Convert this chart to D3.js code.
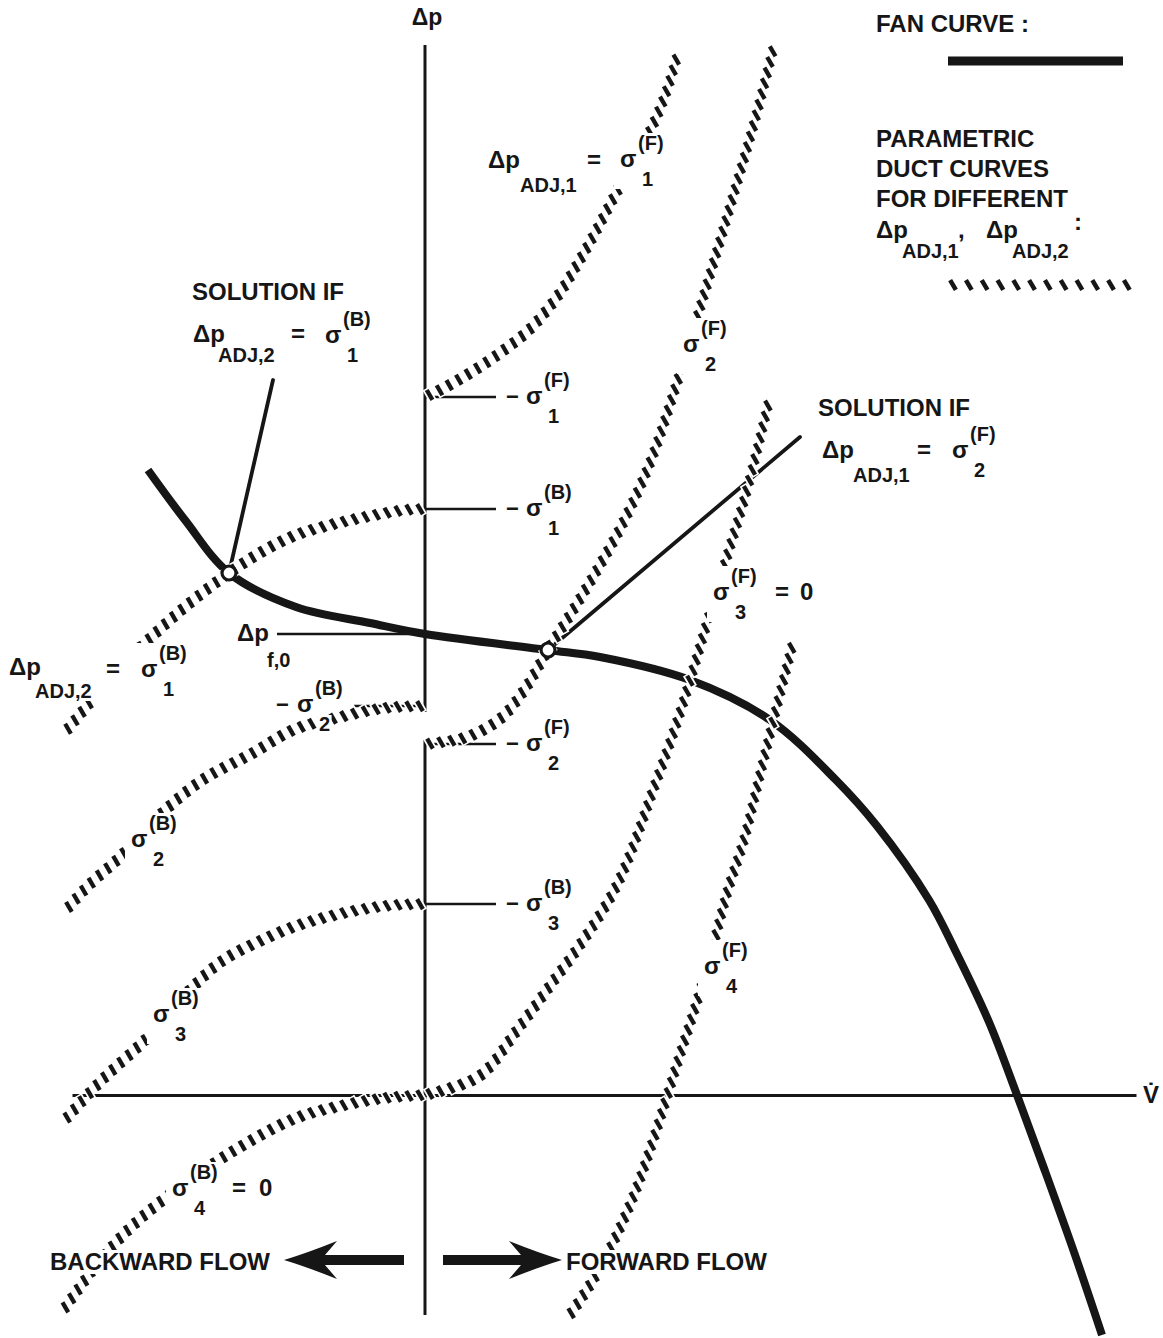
<!DOCTYPE html>
<html>
<head>
<meta charset="utf-8">
<script src="https://cdn.jsdelivr.net/npm/d3@7"></script>
<style>
  html, body { margin: 0; padding: 0; background: #fff; }
  svg { display: block; }
  text { font-family: "Liberation Sans", Arial, Helvetica, sans-serif; font-weight: bold; fill: #161616; }
</style>
</head>
<body>
<svg id="chart" width="1163" height="1338"></svg>
<script>
// Fan curve against parametric duct curves: forward (F) and backward (B) flow branches.
// Horizontal: volume flow V̇, vertical: pressure rise Δp (arbitrary units).

// Fan characteristic (V̇, Δp)
const fanCurve = [[-2.77,6.25],[-2.40,5.75],[-1.96,5.22],[-1.29,4.88],[-0.55,4.72],[0,4.61],
  [1.23,4.45],[1.75,4.38],[2.65,4.15],[3.45,3.75],[4.11,3.15],[4.52,2.69],[5.04,1.95],
  [5.30,1.45],[5.64,0.73],[5.92,0],[6.20,-0.76],[6.49,-1.57],[6.77,-2.40]];

// Duct curves for forward flow, σ1(F) … σ4(F)
const ductF1 = [[0,6.98],[0.17,7.06],[0.45,7.22],[0.75,7.42],[1.05,7.66],[1.32,7.98],[1.52,8.30],
  [1.70,8.62],[1.88,8.96],[2.08,9.32],[2.28,9.70],[2.42,10.05],[2.54,10.45]];
const ductF2 = [[0,3.51],[0.10,3.52],[0.42,3.58],[0.75,3.76],[1.00,4.06],[1.23,4.45],[1.50,4.88],
  [1.75,5.30],[1.98,5.72],[2.25,6.32],[2.52,7.12],[2.82,8.10],[3.10,9.05],[3.30,9.75],[3.48,10.45]];
const ductF3 = [[0,0],[0.19,0.05],[0.56,0.20],[0.93,0.66],[1.30,1.16],[1.55,1.50],[1.92,2.10],
  [2.30,3.10],[2.55,3.82],[2.85,4.82],[3.05,5.48],[3.22,6.05],[3.45,6.98]];
const ductF4 = [[3.68,4.52],[3.51,3.85],[3.35,3.20],[3.19,2.55],[3.03,2.05],[2.87,1.45],[2.71,0.90],
  [2.55,0.40],[2.41,-0.05],[2.25,-0.55],[2.09,-1.00],[1.87,-1.50],[1.65,-1.90],[1.40,-2.27]];

// Duct curves for backward flow, σ1(B) … σ4(B)
const ductB1 = [[0,5.86],[-0.20,5.85],[-0.55,5.79],[-0.95,5.70],[-1.29,5.60],[-1.60,5.45],[-1.96,5.22],
  [-2.40,4.88],[-2.84,4.48],[-3.20,4.10],[-3.58,3.65]];
const ductB2 = [[0,3.89],[-0.40,3.87],[-0.85,3.78],[-1.32,3.65],[-1.72,3.42],[-2.18,3.18],[-2.45,2.98],
  [-2.75,2.70],[-3.05,2.38],[-3.38,2.08],[-3.63,1.80]];
const ductB3 = [[0,1.91],[-0.30,1.90],[-0.55,1.87],[-0.90,1.80],[-1.29,1.69],[-1.65,1.54],[-2.03,1.34],
  [-2.40,1.00],[-2.77,0.58],[-3.25,0.13],[-3.60,-0.25]];
const ductB4 = [[0,0],[-0.40,-0.03],[-0.80,-0.10],[-1.29,-0.23],[-1.85,-0.52],[-2.25,-0.78],[-2.66,-1.08],
  [-3.00,-1.38],[-3.30,-1.72],[-3.65,-2.20]];

// Operating points and the ends of their callout lines
const solutionB = [-1.96, 5.22];
const solutionF = [1.23, 4.45];
const calloutB = [-1.52, 7.15];
const calloutF = [3.75, 6.58];
const dpF0 = 4.61;           // fan pressure rise at zero flow
const dpF0LabelStart = -1.48;

// Offsets marked on the Δp axis (negative σ values): [Δp, side]
const sigmaMarks = [[ductF1[0][1], 1], [ductB1[0][1], 1], [ductB2[0][1], -1], [ductF2[0][1], 1], [ductB3[0][1], 1]];

const svg = d3.select("#chart");
const ink = "#161616";

const x = d3.scaleLinear().domain([-3.5, 7.1]).range([75, 1135]);
const y = d3.scaleLinear().domain([-2.4, 10.5]).range([1335, 45]);
const line = d3.line().x(d => x(d[0])).y(d => y(d[1])).curve(d3.curveCatmullRom.alpha(0.5));
const straight = d3.line().x(d => x(d[0])).y(d => y(d[1]));

const gAxes = svg.append("g");
const gLines = svg.append("g");
const gFan = svg.append("g");
const gHatch = svg.append("g");
const gPts = svg.append("g");
const gKnock = svg.append("g");
const gText = svg.append("g");

// Horizontal (V̇) axis
const hAxis = d3.axisBottom(x.copy().domain([-3.53, 7.11]).range([x(-3.53), x(7.11)]))
  .tickValues([]).tickSizeOuter(0);
gAxes.append("g").attr("transform", `translate(0,${y(0)})`).call(hAxis)
  .call(g => g.select(".domain").attr("stroke", ink).attr("stroke-width", 3));

// Vertical (Δp) axis, interrupted between the two σ2 marks
[[[0,10.5],[0,3.83]], [[0,3.55],[0,-2.2]]].forEach(seg => {
  gAxes.append("path").attr("d", straight(seg)).attr("stroke", ink).attr("stroke-width", 3).attr("fill", "none");
});

// Marks for -σ on the Δp axis
sigmaMarks.forEach(([v, side]) => {
  gLines.append("path").attr("d", straight([[0, v], [side * 0.71, v]]))
    .attr("stroke", ink).attr("stroke-width", 2.6).attr("fill", "none");
});

// Δp_f,0 marker line
gLines.append("path").attr("d", straight([[dpF0LabelStart, dpF0], [0, dpF0]]))
  .attr("stroke", ink).attr("stroke-width", 2.6).attr("fill", "none");

// Callout lines to the two operating points
[[solutionB, calloutB], [solutionF, calloutF]].forEach(pair => {
  gLines.append("path").attr("d", straight(pair)).attr("stroke", ink)
    .attr("stroke-width", 3.8).attr("stroke-linecap", "round").attr("fill", "none");
});

// Fan curve
gFan.append("path").attr("d", line(fanCurve)).attr("fill", "none")
  .attr("stroke", ink).attr("stroke-width", 8).attr("stroke-linecap", "butt");

// Hatched duct curves: short slanted strokes placed along the path
function hatchAlong(node, g, opt) {
  const o = Object.assign({ spacing: 11, len: 11.5, width: 4.3, angle: 60, offset: 5 }, opt || {});
  const L = node.getTotalLength();
  const a = o.angle * Math.PI / 180, ux = Math.cos(a), uy = Math.sin(a);
  const pts = d3.range(o.offset, L - 1, o.spacing).map(s => node.getPointAtLength(s));
  const grp = g.append("g");
  const h = o.len / 2;
  grp.selectAll("line.halo").data(pts).join("line").attr("class", "halo")
    .attr("x1", p => p.x - ux * (h + 1.5)).attr("y1", p => p.y - uy * (h + 1.5))
    .attr("x2", p => p.x + ux * (h + 1.5)).attr("y2", p => p.y + uy * (h + 1.5))
    .attr("stroke", "#fff").attr("stroke-width", o.width + 3.5);
  grp.selectAll("line.dash").data(pts).join("line").attr("class", "dash")
    .attr("x1", p => p.x - ux * h).attr("y1", p => p.y - uy * h)
    .attr("x2", p => p.x + ux * h).attr("y2", p => p.y + uy * h)
    .attr("stroke", ink).attr("stroke-width", o.width).attr("stroke-linecap", "butt");
}

[ductF1, ductF2, ductF3, ductF4, ductB1, ductB2, ductB3, ductB4].forEach(d => {
  const p = gHatch.append("path").attr("d", line(d)).attr("fill", "none").attr("stroke", "none");
  hatchAlong(p.node(), gHatch);
});

// Operating points
[solutionB, solutionF].forEach(d => {
  gPts.append("circle").attr("cx", x(d[0])).attr("cy", y(d[1])).attr("r", 7)
    .attr("fill", "#fff").attr("stroke", ink).attr("stroke-width", 3.2);
});

// Legend swatches
gFan.append("line").attr("x1", 948).attr("x2", 1123).attr("y1", 61).attr("y2", 61)
  .attr("stroke", ink).attr("stroke-width", 9);
const legendHatch = gHatch.append("path").attr("d", "M948,285H1128").attr("stroke", "none");
hatchAlong(legendHatch.node(), gHatch, { spacing: 15.8, offset: 5, len: 11.5, width: 4.5 });

// Flow direction arrows: barbed head, shaft joining the head behind the tip
function arrow(x0, xb, xt, cy) {
  const s = Math.sign(xt - x0);
  const xn = xb + s * 12;          // where the shaft meets the head
  const p = d3.path();
  p.moveTo(x0, cy - 5);
  p.lineTo(xn, cy - 5);
  p.lineTo(xb, cy - 19);
  p.quadraticCurveTo(xb + s * 30, cy - 7, xt, cy);
  p.quadraticCurveTo(xb + s * 30, cy + 7, xb, cy + 19);
  p.lineTo(xn, cy + 5);
  p.lineTo(x0, cy + 5);
  p.closePath();
  gPts.append("path").attr("d", p.toString()).attr("fill", ink);
}
arrow(404, 337, 284, 1260);
arrow(443, 509, 562, 1260);

// ---- Text ----
// Each label is a group; "block" labels get one white knockout covering the whole group,
// the others get a knockout per text piece.
let cur = null;
function label(block) {
  cur = gText.append("g").attr("data-block", block ? 1 : 0);
  return cur;
}
function t(px, py, s, size, anchor) {
  return (cur || gText).append("text").attr("x", px).attr("y", py)
    .attr("font-size", size || 24).attr("text-anchor", anchor || "start").text(s);
}
function sigma(px, py, sup, sub) {
  t(px, py, "σ");
  t(px + 18, py - 17, sup, 20);
  t(px + 22, py + 19, sub, 20);
}
function dp(px, py, sub, dx, dy) {
  t(px, py, "Δp");
  t(px + (dx || 28), py + (dy || 22), sub, 20);
}

// axis names
label(false); t(x(0) + 2, 25, "Δp", 23, "middle");
label(false); t(1143, y(0) + 8, "V\u0307", 24);

// legend
label(false);
t(876, 32, "FAN CURVE :");
t(876, 147, "PARAMETRIC");
t(876, 177, "DUCT CURVES");
t(876, 207, "FOR DIFFERENT");
dp(876, 238, "ADJ,1", 26, 20);
t(958, 238, ",");
dp(986, 238, "ADJ,2", 26, 20);
t(1074, 230, ":");

// top-centre annotation
label(false); dp(488, 168, "ADJ,1", 32, 24); t(587, 168, "=");
label(true); sigma(620, 167, "(F)", "1");

// left solution
label(false);
t(192, 300, "SOLUTION IF");
dp(193, 342, "ADJ,2", 25, 20);
t(291, 342, "=");
sigma(325, 343, "(B)", "1");

// right solution
label(false);
t(818, 416, "SOLUTION IF");
dp(822, 458, "ADJ,1", 31, 24);
t(917, 458, "=");
sigma(952, 458, "(F)", "2");

// marks on Δp axis
[[ductF1[0][1], "(F)", "1"], [ductB1[0][1], "(B)", "1"], [ductF2[0][1], "(F)", "2"], [ductB3[0][1], "(B)", "3"]]
  .forEach(([v, sup, sub]) => {
    label(false);
    t(506, y(v) + 7, "−", 22);
    sigma(526, y(v) + 7, sup, sub);
  });
label(false);
t(276, y(ductB2[0][1]) + 6, "−", 22);
sigma(297, y(ductB2[0][1]) + 6, "(B)", "2");

// Δp_f,0
label(false); dp(237, y(dpF0) + 7, "f,0", 30, 26);

// curve names
label(true); dp(9, 675, "ADJ,2", 26, 23); t(106, 677, "="); sigma(141, 677, "(B)", "1");
label(true); sigma(131, 847, "(B)", "2");
label(true); sigma(153, 1022, "(B)", "3");
label(true); sigma(172, 1196, "(B)", "4");
label(false); t(232, 1196, "="); t(259, 1196, "0");
label(true); sigma(683, 352, "(F)", "2");
label(true); sigma(713, 600, "(F)", "3");
label(false); t(775, 600, "="); t(800, 600, "0");
label(true); sigma(704, 974, "(F)", "4");

// flow directions
label(false); t(50, 1270, "BACKWARD FLOW");
label(false); t(566, 1270, "FORWARD FLOW");

// white knockouts so curves break around labels
gText.selectAll("g").each(function () {
  const g = d3.select(this);
  if (g.attr("data-block") === "1") {
    const b = this.getBBox();
    gKnock.append("rect").attr("x", b.x - 6).attr("y", b.y + 1).attr("width", b.width + 12)
      .attr("height", b.height - 2).attr("fill", "#fff");
  } else {
    g.selectAll("text").each(function () {
      const b = this.getBBox();
      gKnock.append("rect").attr("x", b.x - 1.5).attr("y", b.y + 2).attr("width", b.width + 3)
        .attr("height", b.height - 3).attr("fill", "#fff");
    });
  }
});
</script>
</body>
</html>
